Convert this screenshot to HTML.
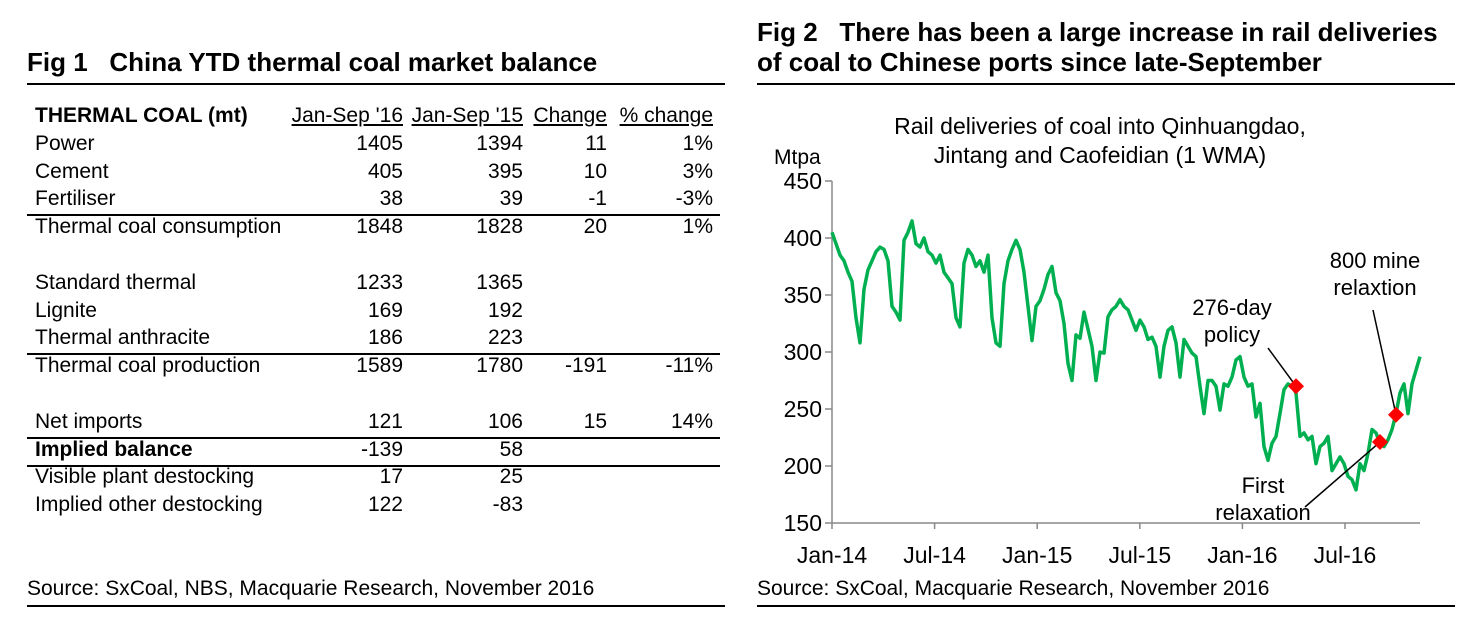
<!DOCTYPE html>
<html><head><meta charset="utf-8"><style>
body{margin:0;width:1479px;height:624px;background:#fff;font-family:"Liberation Sans",Arial,sans-serif;color:#000;position:relative;overflow:hidden}
.a{position:absolute;white-space:nowrap}
.t{font-weight:bold;font-size:26px}
.r{font-size:21px}
.hl{position:absolute;background:#000}
</style></head><body>
<div class="a t" style="left:27px;top:47px">Fig 1&nbsp;&nbsp;&nbsp;China YTD thermal coal market balance</div>
<div class="hl" style="left:27px;top:83px;width:698px;height:2px"></div>
<div id="tbl"></div>
<div class="hl" style="left:27px;top:605px;width:698px;height:1.5px"></div>
<div class="a r" style="left:27px;top:577px">Source: SxCoal, NBS, Macquarie Research, November 2016</div>

<div class="a t" style="left:757px;top:17px;line-height:30px">Fig 2&nbsp;&nbsp;&nbsp;There has been a large increase in rail deliveries<br>of coal to Chinese ports since late-September</div>
<div class="hl" style="left:757px;top:83px;width:698px;height:2px"></div>
<div class="hl" style="left:757px;top:605px;width:698px;height:1.5px"></div>
<div class="a r" style="left:757px;top:577px">Source: SxCoal, Macquarie Research, November 2016</div>

<svg class="a" style="left:0;top:0" width="1479" height="624" id="chart"></svg>

<script>
// ---- table ----
const rowLabels=["Power","Cement","Fertiliser","Thermal coal consumption","","Standard thermal","Lignite","Thermal anthracite","Thermal coal production","","Net imports","Implied balance","Visible plant destocking","Implied other destocking"];
const col16=["1405","405","38","1848","","1233","169","186","1589","","121","-139","17","122"];
const col15=["1394","395","39","1828","","1365","192","223","1780","","106","58","25","-83"];
const colChg=["11","10","-1","20","","","","","-191","","15","","",""];
const colPct=["1%","3%","-3%","1%","","","","","-11%","","14%","","",""];
const tbl=document.getElementById('tbl');
function cell(txt,left,top,right,bold,ul,name){
  const d=document.createElement('div');
  d.className='a r';
  
  
  d.textContent=txt;d.style.top=top+'px';
  if(right){d.style.right=(1479-right)+'px';}else d.style.left=left+'px';
  if(bold)d.style.fontWeight='bold';
  if(ul)d.style.textDecoration='underline';
  tbl.appendChild(d);
}
const hy=104;
cell("THERMAL COAL (mt)",35,hy,0,true,false,'table-header-label');
cell("Jan-Sep '16",0,hy,403,false,true,'header-jan-sep-16');
cell("Jan-Sep '15",0,hy,523,false,true,'header-jan-sep-15');
cell("Change",0,hy,607,false,true,'header-change');
cell("% change",0,hy,713,false,true,'header-pct-change');
rowLabels.forEach((l,i)=>{
  const y=hy+27.8*(i+1);
  if(!l)return;
  cell(l,35,y,0,l==="Implied balance",false,'row-label');
  cell(col16[i],0,y,403,false,false,'value-2016');
  cell(col15[i],0,y,523,false,false,'value-2015');
  if(colChg[i])cell(colChg[i],0,y,607,false,false,'value-change');
  if(colPct[i])cell(colPct[i],0,y,713,false,false,'value-pct-change');
});
[[214,1.5],[353,1.5],[437,1.5],[465,1.5]].forEach(([y,h])=>{
  const d=document.createElement('div');d.className='hl';
  
  
  d.style.cssText=`left:27px;top:${y}px;width:693px;height:${h}px`;tbl.appendChild(d);
});

// ---- chart ----
const yTicks=[150,200,250,300,350,400,450];
const xTickLabels=["Jan-14","Jul-14","Jan-15","Jul-15","Jan-16","Jul-16"];
const xTickMonths=[0,6,12,18,24,30];
const railValues=[405,395,385,380,370,362,330,308,355,372,380,388,392,390,380,340,335,328,398,405,415,395,392,400,388,385,378,385,370,365,360,330,322,378,390,385,375,380,370,385,330,308,305,360,380,390,398,390,370,340,310,340,345,355,368,375,352,345,325,290,275,315,312,335,320,305,275,300,
299,331,337,340,346,340,337,328,319,328,322,311,313,305,278,305,319,322,308,278,311,305,299,296,270,246,275,275,270,249,272,270,278,293,296,278,270,272,243,255,217,205,220,226,246,267,272,270,264,226,229,223,226,202,217,220,226,196,202,208,202,191,188,179,202,196,211,232,229,220,217,223,232,246,264,272,246,272,284,296];
const markerWeeks=[116,137,141];
const markerValues=[270,221,245];
const svg=document.getElementById('chart');
const NS='http://www.w3.org/2000/svg';
const X0=832,PXM=17.1;
const xM=m=>X0+m*PXM;
const xW=w=>X0+w*4.0;
const yV=v=>523-(v-150)*(342/300);
function el(tag,attrs,txt){const e=document.createElementNS(NS,tag);for(const k in attrs)e.setAttribute(k,attrs[k]);if(txt!==undefined)e.textContent=txt;svg.appendChild(e);return e;}
let e;
e=el('line',{x1:X0,y1:yV(450),x2:X0,y2:yV(150),stroke:'#888','stroke-width':1.5});


e=el('line',{x1:X0,y1:yV(150),x2:1420,y2:yV(150),stroke:'#888','stroke-width':1.5});


yTicks.forEach(v=>{
  e=el('line',{x1:X0-7,y1:yV(v),x2:X0,y2:yV(v),stroke:'#888','stroke-width':1.5});
  
  
  e=el('text',{x:822,y:yV(v)+8,'text-anchor':'end','font-size':23},String(v));
  
  
});
xTickMonths.forEach((m,i)=>{
  e=el('line',{x1:xM(m),y1:yV(150),x2:xM(m),y2:yV(150)+6,stroke:'#888','stroke-width':1.5});
  
  
  e=el('text',{x:xM(m),y:563,'text-anchor':'middle','font-size':23},xTickLabels[i]);
  
  
});
e=el('text',{x:774,y:164,'font-size':21},'Mtpa');


e=el('text',{x:1100,y:134,'text-anchor':'middle','font-size':23},'Rail deliveries of coal into Qinhuangdao,');


e=el('text',{x:1100,y:163,'text-anchor':'middle','font-size':23},'Jintang and Caofeidian (1 WMA)');


e=el('polyline',{points:railValues.map((v,i)=>xW(i).toFixed(1)+','+yV(v).toFixed(1)).join(' '),fill:'none',stroke:'#00b050','stroke-width':3.5,'stroke-linejoin':'round'});


// annotation leaders
const ann=[[1268,348],[1305,507],[1373,310]];
const annLabels=[["276-day","policy"],["First","relaxation"],["800 mine","relaxtion"]];
const annText=[[1232,315],[1263,493],[1375,268]];
markerWeeks.forEach((w,i)=>{
  e=el('line',{x1:ann[i][0],y1:ann[i][1],x2:xW(w),y2:yV(markerValues[i]),stroke:'#000','stroke-width':1.5});
  
  
});
markerWeeks.forEach((w,i)=>{
  const cx=xW(w),cy=yV(markerValues[i]);
  e=el('polygon',{points:`${cx},${cy-8} ${cx+8},${cy} ${cx},${cy+8} ${cx-8},${cy}`,fill:'#ff0000'});
  
  
  annLabels[i].forEach((s,j)=>{
    e=el('text',{x:annText[i][0],y:annText[i][1]+j*27,'text-anchor':'middle','font-size':22},s);
    
    
  });
});
</script>
</body></html>
